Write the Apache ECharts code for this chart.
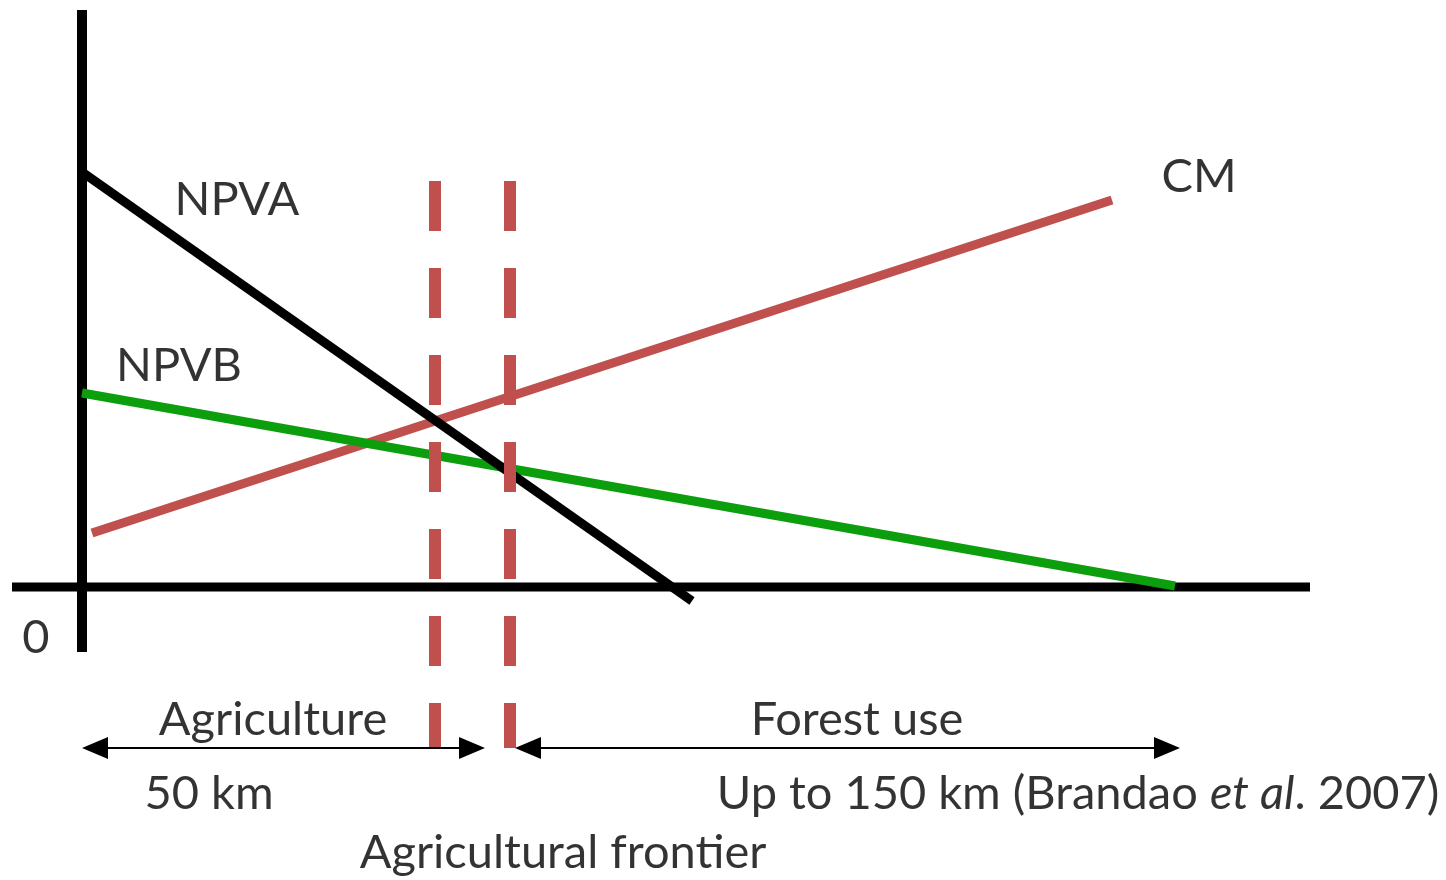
<!DOCTYPE html>
<html>
<head>
<meta charset="utf-8">
<script src="https://cdn.jsdelivr.net/npm/echarts@6/dist/echarts.min.js"></script>
<style>
  html, body { margin: 0; padding: 0; background: #fff; }
  #chart { width: 1446px; height: 880px; }
</style>
</head>
<body>
<div id="chart"></div>
<script>
// schematic units: 0 = origin of the diagram, 1 unit ~ 10 px
const npvA = [[0, 41.4], [61, -1.5]];
const npvB = [[0, 19.3], [109.3, 0]];
const cm = [[1, 5.3], [103, 38.6]];
const frontierX = [35.3, 42.8];
const frontierSpan = [40.5, -16.2];
const yAxisSpan = [57.6, -6.6];
const xAxisSpan = [-7, 122.8];
const agriArrow = [0, 40.3];
const forestArrow = [43.3, 109.8];
const arrowY = -16.2;

// annotation texts and their anchor points
const noteTexts = ['NPVA', 'NPVB', 'CM', '0', 'Agriculture', 'Forest use', '50 km',
  '{n|Up to 150 km (Brandao }{i|et al}{n|. 2007)}', 'Agricultural frontier'];
const noteAt = [[15.5, 38.6], [9.7, 22], [111.7, 40.9], [-4.6, -5.2], [19.1, -13.4],
  [77.5, -13.4], [12.7, -20.8], [99.6, -20.8], [48.1, -26.7]];

const RED = '#c0504d';
const FONT = 'Lato';
const FS = 47;

const chart = echarts.init(document.getElementById('chart'));

const plainLine = (name, data, color, width, extra) => Object.assign({
  name: name,
  type: 'line',
  data: data,
  symbol: 'none',
  silent: true,
  clip: false,
  animation: false,
  lineStyle: { color: color, width: width, cap: 'butt' }
}, extra || {});

const arrowLine = (from, to) => [
  { coord: [from, arrowY] },
  { coord: [to, arrowY] }
];

const series = [
  plainLine('yAxis', [[0, yAxisSpan[0]], [0, yAxisSpan[1]]], '#000', 10),
  plainLine('xAxis', [[xAxisSpan[0], -0.1], [xAxisSpan[1], -0.1]], '#000', 9),
  plainLine('CM', cm, RED, 9),
  plainLine('NPVB', npvB, '#0c9e0c', 9),
  plainLine('NPVA', npvA, '#000', 9)
];

frontierX.forEach((x, i) => {
  series.push(plainLine('frontier' + i, [[x, frontierSpan[0]], [x, frontierSpan[1]]], RED, 12, {
    lineStyle: { color: RED, width: 12, type: [50, 37], cap: 'butt' }
  }));
});

// double-headed arrows under the axis
series.push({
  name: 'arrows',
  type: 'line',
  data: [],
  silent: true,
  animation: false,
  markLine: {
    silent: true,
    animation: false,
    symbol: ['triangle', 'triangle'],
    symbolSize: [22, 26],
    label: { show: false },
    lineStyle: { color: '#000', width: 2, type: 'solid' },
    itemStyle: { color: '#000' },
    emphasis: { disabled: true },
    data: [
      arrowLine(agriArrow[0] + 1.3, agriArrow[1] - 1.3),
      arrowLine(forestArrow[0] + 1.3, forestArrow[1] - 1.3)
    ]
  }
});

series.push({
  name: 'notes',
  type: 'scatter',
  symbolSize: 0,
  silent: true,
  animation: false,
  clip: false,
  data: noteAt.map((p, i) => ({ value: p, text: noteTexts[i] })),
  label: {
    show: true,
    position: 'inside',
    formatter: p => p.data.text,
    color: '#000',
    fontFamily: FONT,
    fontSize: FS,
    rich: {
      n: { fontFamily: FONT, fontSize: FS, color: '#000' },
      i: { fontFamily: FONT, fontSize: FS, color: '#000', fontStyle: 'italic' }
    }
  }
});

chart.setOption({
  backgroundColor: '#fff',
  animation: false,
  grid: { left: 0, right: 0, top: 0, bottom: 0 },
  xAxis: { type: 'value', min: -8.2, max: 136.4, show: false },
  yAxis: { type: 'value', min: -29.4, max: 58.6, show: false },
  series: series
});
</script>
</body>
</html>
